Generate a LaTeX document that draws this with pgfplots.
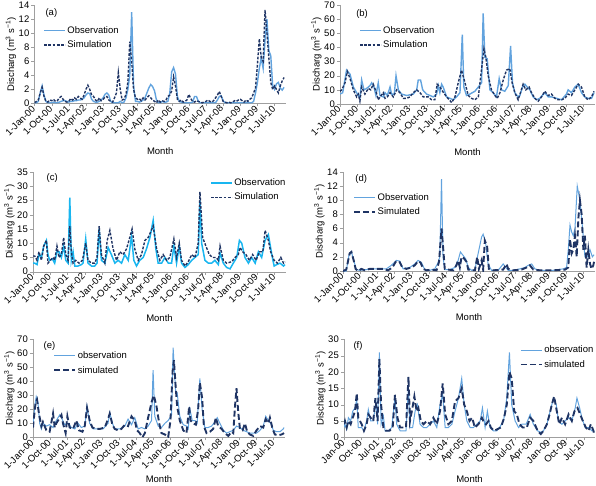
\documentclass[border=0pt]{standalone}
\usepackage{fontspec}
\setmainfont{Liberation Sans}
\usepackage{pgfplots}
\pgfplotsset{compat=1.18}

\definecolor{obs}{RGB}{98,163,222}
\definecolor{obsc}{RGB}{25,182,240}
\definecolor{sim}{RGB}{31,52,100}
\newcommand{\fs}{\fontsize{9.5}{10.5}\selectfont}

\pgfplotsset{
  panel/.style={
    scale only axis,
    axis x line=bottom, axis y line=left,
    axis line style={-, draw=gray!75},
    tick style={draw=gray!75}, tick align=outside, major tick length=3pt,
    xmin=0, xmax=132, ymin=0,
    xtick={0,9,...,126},
    xticklabels={1-Jan-00,1-Oct-00,1-Jul-01,1-Apr-02,1-Jan-03,1-Oct-03,1-Jul-04,1-Apr-05,1-Jan-06,1-Oct-06,1-Jul-07,1-Apr-08,1-Jan-09,1-Oct-09,1-Jul-10},
    xticklabel style={rotate=45, anchor=east, font=\fs, inner sep=1pt},
    yticklabel style={font=\fs, inner sep=2pt},
    /pgf/number format/assume math mode=true,
    ylabel={Discharg (m\textsuperscript{3} s\textsuperscript{−1})},
    ylabel style={font=\fs},
    ylabel shift=-3pt,
    xlabel={Month},
    xlabel style={font=\fs, at={(axis description cs:0.5,0)}, anchor=center},
    legend cell align=left,
    legend style={draw=none, fill=none, font=\fs, inner sep=0pt, row sep=3pt, nodes={inner sep=1.5pt}},
    legend image code/.code={\draw[##1] (0pt,0pt) -- (21pt,0pt);},
  },
  obsline/.style={color=obs, line width=1.4pt},
  obsthin/.style={color=obs, line width=1.0pt},
  simshort/.style={color=sim, line width=1.4pt, dash pattern=on 2.7pt off 1.5pt},
  simlong/.style={color=sim, line width=1.9pt, dash pattern=on 6pt off 3pt},
}

\begin{document}
\begin{tikzpicture}
\useasboundingbox (0pt,0pt) rectangle (596pt,-486pt);

% (a)
\begin{axis}[panel, at={(34.5pt,-103.5pt)}, anchor=south west,
  width=251.5pt, height=98.5pt, ymax=14, ytick={0,2,...,14},
  xlabel style={yshift=-48pt},
  legend style={at={(axis description cs:0.035,0.8)}, anchor=north west}]
\addplot[obsline] coordinates {
(0,0.1)(1,0.1)(2,0.3)(3,1.5)(4,2.5)(5,1.2)(6,0.3)(7,0.1)(8,0.1)(9,0.1)(10,0.2)(11,0.1)(12,0.1)(13,0.2)(14,0.3)(15,0.4)
(16,0.4)(17,0.3)(18,0.2)(19,0.3)(20,0.3)(21,0.4)(22,0.4)(23,0.5)(24,0.5)(25,0.6)(26,0.8)(27,1.2)(28,1.5)(29,1.4)(30,0.6)
(31,0.3)(32,0.2)(33,0.2)(34,0.3)(35,0.5)(36,0.8)(37,1.3)(38,1.5)(39,1.2)(40,0.3)(41,0.1)(42,0.1)(43,0.1)(44,0.1)(45,0.3)
(46,0.1)(47,0.2)(48,0.8)(49,2)(50,4)(51,13)(52,2.5)(53,0.3)(54,0.3)(55,0.2)(56,0.3)(57,0.5)(58,0.8)(59,1.5)(60,2.2)
(61,2.7)(62,2.4)(63,1.8)(64,0.5)(65,0.1)(66,0.1)(67,0.3)(68,0.2)(69,0.2)(70,0.3)(71,1.5)(72,4.5)(73,5.1)(74,4.2)(75,1.0)
(76,0.3)(77,0.2)(78,0.1)(79,0.1)(80,0.1)(81,0.1)(82,0.1)(83,0.2)(84,1.0)(85,1.0)(86,0.3)(87,0.1)(90,0.1)(95,0.1)(96,0.5)
(97,1.0)(98,1.1)(99,0.4)(100,0.1)(114,0.1)(115,0.3)(116,1.5)(117,3)(118,5)(119,6.5)(120,5)(121,9)(122,12)(123,7.5)
(124,6.8)(125,2.5)(126,2)(127,2.8)(128,3)(129,2.2)(130,1.9)(131,2.3)
};
\addlegendentry{Observation}
\addplot[simshort] coordinates {
(0,0.1)(1,0.3)(2,0.5)(3,1.5)(4,2.3)(5,1.0)(6,0.3)(7,0.2)(8,0.5)(9,0.4)(10,0.6)(11,0.3)(12,0.4)(13,0.8)(14,1.0)(15,0.6)
(16,0.3)(17,0.2)(18,0.3)(19,0.7)(20,0.5)(21,0.8)(22,0.6)(23,1.0)(24,0.8)(25,0.6)(26,1.2)(27,2.0)(28,2.6)(29,2.0)(30,1.2)
(31,1.0)(32,0.5)(33,0.3)(34,0.8)(35,0.4)(36,0.6)(37,0.9)(38,1.0)(39,0.5)(40,0.3)(41,0.2)(42,0.8)(43,1.5)(44,4.4)(45,2.0)
(46,0.5)(47,0.6)(48,1.3)(49,3)(50,8.8)(51,6)(52,2)(53,0.8)(54,0.6)(55,0.7)(56,0.4)(57,0.8)(58,0.5)(59,0.8)(60,1.1)
(61,0.8)(62,0.5)(63,0.3)(64,0.1)(65,0.5)(66,0.2)(67,0.4)(68,0.3)(69,0.5)(70,1.0)(71,1.2)(72,1.8)(73,3.8)(74,2.5)(75,0.6)
(76,0.3)(77,0.5)(78,0.2)(79,0.3)(80,0.5)(81,1.3)(82,0.7)(83,0.3)(84,0.2)(85,0.4)(86,0.3)(87,0.2)(88,0.1)(89,0.2)(90,0.3)
(91,0.5)(92,0.3)(93,0.2)(94,0.4)(95,0.8)(96,1.2)(97,1.7)(98,1.0)(99,0.3)(100,0.2)(101,0.1)(102,0.2)(103,0.1)(104,0.2)
(105,0.4)(106,0.3)(107,0.5)(108,0.6)(109,0.4)(110,0.2)(111,0.5)(112,0.3)(113,0.6)(114,0.8)(115,1.5)(116,2.2)(117,5.5)
(118,9.2)(119,6.5)(120,6.0)(121,13.3)(122,10)(123,6.5)(124,3)(125,2)(126,2.5)(127,2)(128,1.5)(129,2.5)(130,3.2)(131,3.7)
};
\addlegendentry{Simulation}
\node[font=\fs, anchor=west] at (axis description cs:0.03,0.92) {(a)};
\end{axis}

% (b)
\begin{axis}[panel, at={(340pt,-104pt)}, anchor=south west,
  width=255pt, height=99pt, ymax=70, ytick={0,10,...,70},
  xlabel style={yshift=-48pt},
  legend style={at={(axis description cs:0.075,0.8)}, anchor=north west}]
\addplot[obsline] coordinates {
(0,7)(1.4,8)(3.4,24)(5.2,21)(6.9,12)(8.6,8)(9.5,6)(10.3,4)(11.2,17)(12.4,10)(13.8,11)(15.5,13)(16.4,15)(17.6,12)(18.6,6)
(19.8,15)(20.7,6)(22.4,5)(23.3,8)(24.5,6)(25.9,12)(26.7,7)(28.1,7)(29.0,20)(30.2,10)(31.9,7)(34.5,6)(37.9,7)(39.7,10)
(40.5,17)(41.7,17)(42.8,10)(44.8,7)(46.6,6)(48.3,5)(50.0,7)(50.9,13)(51.7,8)(52.6,14)(53.4,12)(55.2,5)(56.9,4)(58.6,3)
(60.3,5)(62.1,8)(63.3,49)(64.1,12)(65.5,6)(67.2,7)(69.8,9)(71.6,12)(73.3,15)(74.1,64)(75.0,33)(76.2,32)(77.6,10)(79.3,8)
(81.0,5)(82.4,18)(83.6,10)(85.3,9)(87.1,13)(88.3,41)(89.3,15)(90.5,8)(92.2,5)(93.1,6)(94.5,12)(95.7,14)(96.9,12)(98.3,10)
(100,5)(101.7,3)(103.4,4)(106.0,8)(107.8,5)(109.5,5)(112.1,4)(114.7,3)(117.2,7)(118.1,10)(119.8,8)(121.6,12)(123.3,14)
(125.0,8)(126.7,5)(128.4,4)(130.2,4)(131.5,8)
};
\addlegendentry{Observation}
\addplot[simshort] coordinates {
(0,9)(0.9,10)(2.6,15)(3.8,23)(5.2,18)(6.9,10)(8.6,5)(9.5,7)(10.3,2)(11.2,12)(12.9,7)(14.7,11)(15.9,10)(17.2,14)(18.6,9)
(19.8,3)(20.7,5)(22.4,8)(23.3,4)(24.5,5)(25.9,8)(27.6,5)(29.3,10)(31.0,8)(32.8,4)(34.5,4)(36.2,5)(37.9,8)(39.7,10)(41.4,8)
(43.1,5)(45.7,5)(47.4,3)(49.1,3)(50.3,14)(51.7,12)(53.1,9)(55.2,5)(57.8,1)(59.5,5)(61.2,15)(62.9,24)(64.7,15)(66.4,6)
(68.1,4)(69.8,3)(71.6,5)(73.3,25)(74.5,39)(75.5,33)(76.7,20)(78.4,10)(80.2,6)(81.4,4)(82.8,8)(84.5,17)(86.2,24)(87.9,25)
(89.1,15)(90.5,8)(92.2,3)(93.4,8)(94.8,14)(96.2,10)(97.9,12)(99.1,8)(100.9,4)(102.6,2)(104.3,5)(106.0,9)(107.8,6)(109.5,7)
(111.2,4)(112.9,3)(114.7,3)(116.4,4)(118.1,7)(119.8,6)(121.6,10)(123.3,14)(125.0,12)(126.7,5)(128.4,3)(130.2,5)(131.5,9)
};
\addlegendentry{Simulation}
\node[font=\fs, anchor=west] at (axis description cs:0.05,0.91) {(b)};
\end{axis}

% (c)
\begin{axis}[panel, at={(33pt,-271.7pt)}, anchor=south west,
  width=253pt, height=99.7pt, ymax=35, ytick={0,5,...,35},
  xlabel style={yshift=-46pt},
  legend style={at={(axis description cs:0.7,0.95)}, anchor=north west}]
\addplot[color=obsc, line width=1.5pt] coordinates {
(0,3)(0.9,3)(2.1,2.5)(3.1,6)(4.4,5)(5.6,9)(7.0,11)(7.8,6)(8.7,4)(10.1,4.5)(11.3,3)(12.5,7)(13.6,7)(14.8,5)(16.0,9)(17.1,4)
(18.3,3)(19.2,26)(20.0,4)(20.9,7)(21.8,2)(23.5,2)(25.3,2.5)(26.1,3)(27.5,11.5)(28.7,3)(30.5,2)(32.2,2)(33.4,3)(34.5,15)
(35.7,4)(37.5,3)(39.2,8.5)(40.9,6)(42.7,3)(44.4,4)(46.2,3)(47.9,6)(49.7,4)(51.4,12.5)(52.6,4)(54.0,2)(55.7,4)(57.5,5)
(59.2,8)(61.0,12)(62.7,18)(64.1,8)(65.3,3)(67.1,3)(68.8,5)(70.6,3)(72.3,3)(73.5,9)(74.9,3)(76.3,9)(77.5,3)(79.3,1.5)
(81.0,2.5)(82.8,4)(84.5,5)(86.2,6)(87.1,25)(88.0,10)(89.7,4)(91.5,3)(93.2,3)(94.9,4)(96.7,2.5)(97.6,6.5)(99.3,3)(101.0,1.5)
(102.8,1)(104.5,3)(106.3,5)(107.7,11)(108.9,10)(110.6,5)(112.4,3)(114.1,5)(115.9,3)(117.6,7)(119.3,5)(121.1,11)(122.8,13)
(124.6,6)(125.8,2)(127.2,2.5)(128.9,3)(130.7,2)(131.5,2.5)
};
\addlegendentry{Observation}
\addplot[simshort] coordinates {
(0,5.5)(0.9,5.5)(2.1,4)(3.1,7)(4.4,4)(5.6,9)(7.0,11)(7.8,3)(9.1,4)(10.5,5)(11.3,4)(12.5,9)(13.6,5)(14.8,6)(16.0,12)(17.1,6)
(18.3,4)(19.2,16)(20.0,7)(20.9,3)(22.3,4)(24.0,3)(25.8,4)(27.5,10)(28.7,4)(30.5,3)(32.2,3)(33.4,5)(34.5,16)(35.7,6)(37.5,3)
(38.7,11)(40.1,14.5)(41.8,8)(43.6,4)(45.3,7)(47.0,6)(48.8,8)(50.5,12)(51.7,15)(53.1,8)(54.9,4)(56.6,6)(58.4,11)(60.1,12)
(62.7,16)(64.5,8)(66.2,4)(67.9,6)(69.7,4)(71.4,5)(73.5,11.5)(74.9,5)(76.3,10)(77.5,4)(79.3,2)(81.0,3.5)(82.8,6)(84.5,5)
(86.2,10)(87.1,28)(88.5,12)(90.2,9)(92.0,6)(93.7,5)(95.5,5)(96.7,4)(97.6,9)(99.3,4)(101.0,3)(103.7,3.5)(105.4,5)(107.1,6)
(108.0,8.5)(109.4,7)(111.1,6)(112.9,4)(114.6,6)(116.4,4)(118.1,7)(119.9,7)(121.1,14.5)(122.8,11)(124.0,7)(125.8,4)(127.5,3)
(129.3,5)(130.7,3)(131.5,3.5)
};
\addlegendentry{Simulation}
\node[font=\fs, anchor=west] at (axis description cs:0.04,0.94) {(c)};
\end{axis}

% (d)
\begin{axis}[panel, at={(343pt,-271pt)}, anchor=south west,
  width=252pt, height=99pt, ymax=14, ytick={0,2,...,14},
  xlabel style={yshift=-46pt},
  legend style={at={(axis description cs:0.04,0.8)}, anchor=north west}]
\addplot[obsthin] coordinates {
(0,0)(1.7,0)(3.1,2.2)(4.4,2.7)(5.6,1.5)(7.0,0.2)(8.7,0.1)(12.2,0.2)(15.7,0.3)(19.2,0.3)(22.7,0.3)(25.3,0.8)(28.0,1.5)
(29.7,1.4)(31.5,0.3)(35.0,0.5)(37.6,1.0)(39.3,1.5)(41.1,1.2)(42.8,0.2)(45.5,0.1)(48.1,0.3)(49.8,1.2)(50.7,2)(51.6,13)
(52.4,2)(53.3,0.2)(55.9,0.2)(58.6,0.5)(60.3,1.5)(61.5,2.7)(62.9,2.2)(64.3,1.7)(65.6,0.5)(67.3,0.1)(69.1,0.2)(70.8,2.5)
(72.6,4.8)(73.4,5.2)(74.7,4)(76.0,1)(77.8,0.1)(81.3,0.1)(83.9,1.0)(85.3,0.5)(86.5,0.1)(89.2,0.1)(92.7,0.3)(95.3,0.5)
(97.0,0.8)(98.8,1.0)(100.5,0.3)(103.1,0.1)(110.1,0.1)(115.4,0.3)(117.1,0.5)(118.0,3)(118.9,6.5)(119.8,5.5)(120.6,5)
(121.5,6)(122.7,12)(124.1,10)(125.5,6)(126.7,2)(128.0,2)(129.4,3)(130.6,2)(131.5,2.3)
};
\addlegendentry{Observation}
\addplot[simlong] coordinates {
(0,0)(1.7,0.2)(3.5,2.5)(4.4,2.7)(5.6,1.5)(6.6,0.3)(7.9,0)(9.6,0.3)(11.4,0.1)(14.0,0.3)(17.5,0.3)(21.0,0.3)(23.6,0.1)
(25.9,0.5)(27.6,1.3)(29.4,1.4)(31.1,0.5)(33.2,0.3)(35.8,0.5)(37.6,0.8)(39.3,1.4)(40.6,1.2)(42.0,0.3)(43.7,0.1)(46.3,0.2)
(49.0,0.1)(50.3,1.3)(51.6,6)(52.4,3.5)(53.3,0.3)(55.1,0.2)(57.7,0.1)(59.4,0.8)(60.3,1.5)(61.2,0.5)(62.1,2.0)(63.3,1.8)
(64.7,1.3)(65.6,0.2)(67.3,0.1)(69.1,0.1)(70.3,2.0)(71.2,0.3)(72.6,1.5)(73.4,0.2)(74.3,4.3)(75.5,3.5)(76.4,0.3)(78.7,0.1)
(83.9,0.2)(85.7,1.0)(86.5,0.3)(89.2,0.1)(93.5,0.2)(96.2,0.5)(97.9,0.8)(99.7,0.2)(103.1,0.1)(110.1,0.1)(116.3,0.2)(118.0,0.5)
(118.9,4.5)(119.8,2.5)(120.6,3.0)(121.5,5)(122.4,2)(123.3,7.5)(124.1,10)(125.0,8)(125.9,3)(126.7,5)(127.6,0.5)(128.5,3)
(129.4,1)(130.2,0.3)(131.1,0.8)(131.5,1.3)
};
\addlegendentry{Simulated}
\node[font=\fs, anchor=west] at (axis description cs:0.035,0.93) {(d)};
\end{axis}

% (e)
\begin{axis}[panel, at={(33pt,-437.3pt)}, anchor=south west,
  width=252pt, height=98pt, ymax=70, ytick={0,10,...,70},
  xlabel style={yshift=-42pt},
  legend style={at={(axis description cs:0.08,0.89)}, anchor=north west}]
\addplot[obsthin] coordinates {
(0,8)(0.9,22)(1.7,29)(2.6,25)(3.5,10)(4.4,6)(5.2,10)(7.0,8)(8.7,9)(10.5,7)(12.2,12)(14.0,16)(14.9,14)(16.6,9)(18.4,10)
(20.1,7)(21.9,6)(23.6,10)(25.3,7)(27.1,8)(28.3,22)(29.7,10)(31.5,6)(34.1,6)(36.7,6)(39.3,10)(40.2,17.5)(41.6,10)(42.8,6)
(45.5,6)(48.1,8)(49.8,13)(51.6,9)(53.3,14)(55.1,6)(56.8,7)(58.6,6)(60.3,8)(62.1,12)(62.9,48)(63.8,15)(65.6,8)(67.3,7)
(69.1,10)(70.8,12)(72.6,16)(73.4,64)(74.7,33)(75.5,32)(76.9,15)(78.7,9)(80.4,8)(81.3,6)(82.2,20)(83.4,12)(84.8,12)(86.0,10)
(87.4,42)(88.6,20)(90.0,7)(91.8,7)(93.5,8)(95.3,11)(96.5,14)(97.9,10)(99.7,5)(101.4,3)(103.1,4)(104.9,5)(106.6,8)(108.4,7)
(110.1,5)(111.9,4)(113.6,3)(115.4,3)(117.1,3)(118.9,5)(120.6,8)(121.9,15)(123.3,12)(124.5,10)(125.9,5)(127.6,4)(129.4,4)
(131.1,6)(131.5,7)
};
\addlegendentry{observation}
\addplot[simlong] coordinates {
(0,7)(0.5,14)(1.4,25)(2.1,27)(3.1,17)(4.4,8)(5.2,11)(7.0,5)(8.7,4)(10.5,17)(11.4,7)(12.2,10)(13.6,13)(14.9,16)(15.7,10)
(17.1,3)(18.0,15)(19.2,7)(21.0,6)(22.7,12)(24.1,5)(25.9,4)(27.1,8)(28.3,21)(29.7,12)(31.1,7)(32.9,6)(35.0,6)(37.6,7)
(39.3,13)(40.2,17)(41.6,9)(42.8,6)(44.6,5)(46.3,6)(48.1,9)(49.8,8)(51.6,15)(53.3,12)(54.5,5)(55.9,3)(57.3,0)(58.6,3)
(60.3,14)(62.1,25)(63.3,30)(64.7,22)(66.1,10)(67.3,3)(69.1,2)(70.8,0)(72.0,12)(73.1,47)(73.8,55)(74.8,35)(75.5,22)(76.9,12)
(78.7,5)(80.4,3)(81.8,22)(82.5,12)(83.9,10)(85.3,9)(86.5,20)(87.4,39)(88.6,28)(89.5,8)(90.9,3)(92.7,4)(94.4,6)(95.8,14)
(97.0,8)(98.8,6)(100.5,3)(102.3,1)(104.0,4)(104.9,3)(105.8,22)(106.6,35)(107.5,18)(108.4,6)(109.8,5)(111.0,10)(112.2,4)
(113.6,2)(115.4,1)(117.1,5)(118.9,8)(120.6,7)(121.9,13)(123.3,10)(124.1,14)(125.5,6)(126.7,2)(128.5,1.5)(130.2,2)(131.5,3)
};
\addlegendentry{simulated}
\node[font=\fs, anchor=west] at (axis description cs:0.028,0.93) {(e)};
\end{axis}

% (f)
\begin{axis}[panel, at={(344pt,-437.3pt)}, anchor=south west,
  width=251pt, height=98pt, ymax=30, ytick={0,5,...,30},
  xticklabels={Jan-00,Oct-00,Jul-01,Apr-02,Jan-03,Oct-03,Jul-04,Apr-05,Jan-06,Oct-06,Jul-07,Apr-08,Jan-09,Oct-09,Jul-10},
  xlabel style={yshift=-42pt},
  legend style={at={(axis description cs:0.7,0.95)}, anchor=north west}]
\addplot[obsthin] coordinates {
(0,3)(0.5,4)(1.4,2.5)(2.3,6)(3.5,5)(4.6,8)(5.8,9)(6.7,11.5)(7.5,3)(9.3,3)(10.5,2)(11.9,5)(12.8,8.5)(14.0,5)(15.4,5)
(16.8,11)(17.7,4)(18.6,26)(19.5,4)(20.7,6.5)(21.6,2)(23.3,2)(25.1,3)(26.8,12)(27.7,4)(29.5,2)(31.2,2)(32.6,2)(33.9,15)
(34.7,3)(36.1,3)(37.4,8)(38.6,10)(40.0,4)(41.8,3)(43.5,3)(45.3,4)(47.0,5)(48.8,3)(50.5,10)(51.9,13)(53.2,3)(54.9,3)
(56.7,4)(58.4,8)(60.2,12)(61.9,18)(63.2,10)(64.6,5)(66.3,3)(68.1,3)(69.8,4)(71.6,5)(72.8,9)(74.2,3)(75.4,8)(76.8,3)
(78.6,2)(80.4,2)(81.8,3)(83.9,5)(85.6,12)(87.0,26)(88.2,10)(90.0,5)(91.8,3)(93.5,4)(95.8,4)(97.9,7)(99.6,4)(101.8,2)
(103.5,1.5)(104.9,2)(106.7,4)(108.4,8)(110.2,12)(111.6,10)(112.8,5)(114.6,4)(116.3,5)(118.1,6)(119.8,5)(121.6,9)(122.5,12)
(123.9,9)(125.1,6)(126.8,3)(128.6,3)(130.4,2)(131.5,2)
};
\addlegendentry{observation}
\addplot[simlong] coordinates {
(0,4)(0.5,5)(1.4,3)(2.3,5)(3.5,4)(4.6,6)(5.8,8)(6.7,13.5)(7.5,6)(9.3,4)(10.5,2)(11.9,4)(12.8,7)(14.0,6)(15.4,5)(16.5,12)
(17.7,5)(18.6,24)(19.5,10)(20.7,3)(22.1,2)(23.9,2)(25.6,3)(26.8,13)(28.1,6)(29.5,3)(31.2,3)(32.6,3)(33.9,18.5)(34.7,5)
(36.0,9)(37.0,12.5)(38.2,8)(39.1,9)(40.4,5)(41.8,4)(43.5,5)(45.3,4)(47.0,6)(48.8,4)(50.5,8)(51.9,16.5)(53.2,7)(54.9,4)
(56.7,5)(58.4,11)(60.2,12)(61.9,15)(63.2,10)(64.6,8)(66.0,5)(67.4,6)(68.8,3)(70.7,4)(72.5,6)(73.3,5)(74.7,4)(76.0,5)
(77.2,3)(78.9,2)(80.7,2.5)(82.5,3)(84.2,6)(85.6,10)(87.0,20)(88.2,18)(89.5,8)(90.9,7)(92.3,4)(94.0,3)(96.1,3)(97.9,6)
(99.6,5)(101.8,2)(103.5,1)(104.9,2)(106.7,4)(108.1,7)(109.3,10)(110.5,12.5)(111.9,8)(113.2,4)(114.6,6)(116.3,4)(118.1,7)
(119.8,5)(121.2,8)(122.8,9)(124.2,7)(125.6,5)(127.2,3)(128.6,2)(129.8,4)(131.2,2)(131.5,1)
};
\addlegendentry{simulated}
\node[font=\fs, anchor=west] at (axis description cs:0.024,0.93) {(f)};
\end{axis}
\end{tikzpicture}
\end{document}
